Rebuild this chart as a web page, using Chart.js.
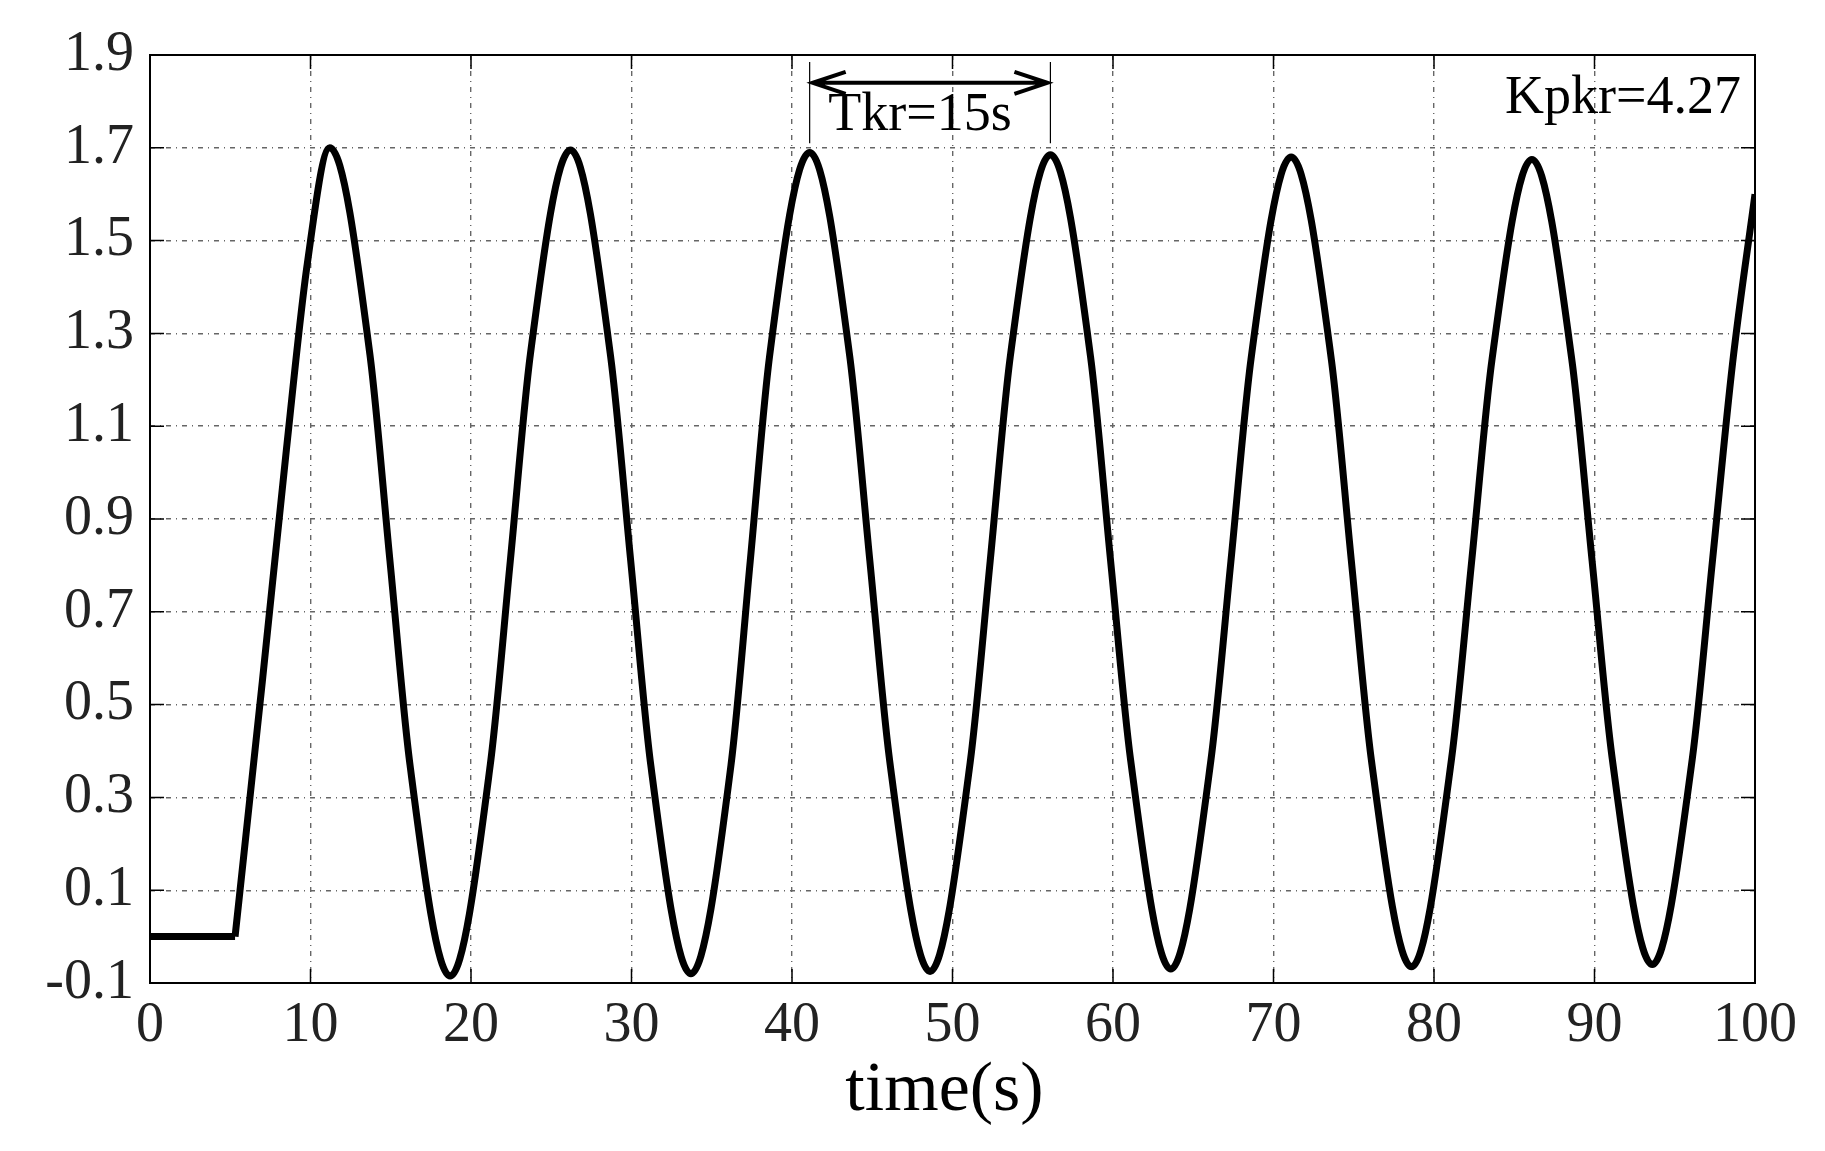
<!DOCTYPE html>
<html>
<head>
<meta charset="utf-8">
<script src="https://cdn.jsdelivr.net/npm/chart.js@4.4.0/dist/chart.umd.min.js"></script>
<style>
  html, body { margin: 0; padding: 0; background: #fff; }
  #wrap { width: 1825px; height: 1151px; }
</style>
</head>
<body>
<div id="wrap"><canvas id="c"></canvas></div>
<script>
// step-off segment before the oscillation starts
const flatTimes = [0, 5.3];
const flatValues = [0, 0];

// oscillation
const times = [5.3, 7.0, 8.5, 9.8, 11.2, 13.7, 14.95, 16.2, 18.7, 21.2, 22.45, 23.7, 26.2,
  28.7, 29.95, 31.2, 33.7, 36.2, 37.4, 38.6, 41.1, 43.6, 44.85, 46.1, 48.6, 51.1, 52.35, 53.6, 56.1,
  58.6, 59.85, 61.1, 63.6, 66.1, 67.35, 68.6, 71.1, 73.6, 74.85, 76.1, 78.6, 81.1, 82.35, 83.6, 86.1,
  88.6, 89.85, 91.1, 93.6, 96.1, 97.35, 98.6, 100];
const values = [0, 0.55, 1.05, 1.45, 1.70, 1.255, 0.81, 0.37, -0.085, 0.37, 0.81, 1.255, 1.695,
  1.25, 0.81, 0.37, -0.08, 0.37, 0.81, 1.25, 1.69, 1.25, 0.81, 0.375, -0.075, 0.375, 0.81, 1.25, 1.685,
  1.25, 0.81, 0.38, -0.07, 0.38, 0.81, 1.245, 1.68, 1.245, 0.81, 0.38, -0.065, 0.385, 0.81, 1.24, 1.675,
  1.24, 0.81, 0.385, -0.06, 0.385, 0.81, 1.235, 1.6];

const xTicks = [0, 10, 20, 30, 40, 50, 60, 70, 80, 90, 100];
const yTicks = [-0.1, 0.1, 0.3, 0.5, 0.7, 0.9, 1.1, 1.3, 1.5, 1.7, 1.9];

const periodStart = 41.1;
const periodEnd = 56.1;
const periodLabel = 'Tkr=15s';
const gainLabel = 'Kpkr=4.27';
const xTitle = 'time(s)';

const FONT = '"Liberation Serif", "Times New Roman", serif';

const toXY = (xs, ys) => xs.map((x, i) => ({ x, y: ys[i] }));

const annotate = {
  id: 'annotate',
  afterDraw(chart) {
    const { ctx, chartArea: a, scales: { x, y } } = chart;
    ctx.save();
    // box
    ctx.strokeStyle = '#000';
    ctx.lineWidth = 2;
    ctx.strokeRect(a.left, a.top, a.right - a.left, a.bottom - a.top);
    // inward ticks
    ctx.lineWidth = 1.5;
    xTicks.forEach(v => {
      const px = x.getPixelForValue(v);
      ctx.beginPath();
      ctx.moveTo(px, a.bottom); ctx.lineTo(px, a.bottom - 14);
      ctx.moveTo(px, a.top); ctx.lineTo(px, a.top + 14);
      ctx.stroke();
    });
    yTicks.forEach(v => {
      const py = y.getPixelForValue(v);
      ctx.beginPath();
      ctx.moveTo(a.left, py); ctx.lineTo(a.left + 14, py);
      ctx.moveTo(a.right, py); ctx.lineTo(a.right - 14, py);
      ctx.stroke();
    });
    // period marker
    const x1 = x.getPixelForValue(periodStart);
    const x2 = x.getPixelForValue(periodEnd);
    const yTop = y.getPixelForValue(1.885);
    const yBot = y.getPixelForValue(1.71);
    const yArr = y.getPixelForValue(1.84);
    ctx.lineWidth = 1.2;
    ctx.beginPath();
    ctx.moveTo(x1, yTop); ctx.lineTo(x1, yBot);
    ctx.moveTo(x2, yTop); ctx.lineTo(x2, yBot);
    ctx.stroke();
    ctx.lineWidth = 4;
    ctx.beginPath();
    ctx.moveTo(x1 + 3, yArr); ctx.lineTo(x2 - 3, yArr);
    ctx.moveTo(x1 + 36, yArr - 11); ctx.lineTo(x1 + 3, yArr); ctx.lineTo(x1 + 36, yArr + 11);
    ctx.moveTo(x2 - 36, yArr - 11); ctx.lineTo(x2 - 3, yArr); ctx.lineTo(x2 - 36, yArr + 11);
    ctx.stroke();
    ctx.fillStyle = '#000';
    ctx.font = '54px ' + FONT;
    ctx.textAlign = 'center';
    ctx.textBaseline = 'middle';
    ctx.fillText(periodLabel, (x1 + x2) / 2 - 10, y.getPixelForValue(1.77));
    ctx.textAlign = 'right';
    ctx.fillText(gainLabel, a.right - 14, y.getPixelForValue(1.805));
    // x title
    ctx.font = '70px ' + FONT;
    ctx.textAlign = 'center';
    ctx.fillText(xTitle, x.getPixelForValue(49.5), 1092);
    ctx.restore();
  }
};

new Chart(document.getElementById('c'), {
  type: 'line',
  data: {
    datasets: [
      { data: toXY(flatTimes, flatValues), borderColor: '#000', borderWidth: 7, pointRadius: 0, tension: 0 },
      { data: toXY(times, values), borderColor: '#000', borderWidth: 7, pointRadius: 0, cubicInterpolationMode: 'monotone' }
    ]
  },
  plugins: [annotate],
  options: {
    responsive: true,
    maintainAspectRatio: false,
    animation: false,
    layout: { padding: { top: 55, right: 70, left: 0, bottom: 0 } },
    plugins: { legend: { display: false }, tooltip: { enabled: false } },
    scales: {
      x: {
        type: 'linear', min: 0, max: 100,
        afterBuildTicks: s => { s.ticks = xTicks.map(v => ({ value: v })); },
        afterFit: s => { s.height = 168; },
        ticks: { font: { family: FONT, size: 56 }, color: '#222', padding: 10, maxRotation: 0 },
        grid: { color: '#666', lineWidth: 1.4, drawTicks: false },
        border: { display: false, dash: [5, 5, 1, 5] }
      },
      y: {
        type: 'linear', min: -0.1, max: 1.9,
        afterBuildTicks: s => { s.ticks = yTicks.map(v => ({ value: v })); },
        afterFit: s => { s.width = 150; },
        ticks: { font: { family: FONT, size: 56 }, color: '#222', padding: 16, callback: v => v.toFixed(1) },
        grid: { color: '#666', lineWidth: 1.4, drawTicks: false },
        border: { display: false, dash: [5, 5, 1, 5] }
      }
    }
  }
});
</script>
</body>
</html>
